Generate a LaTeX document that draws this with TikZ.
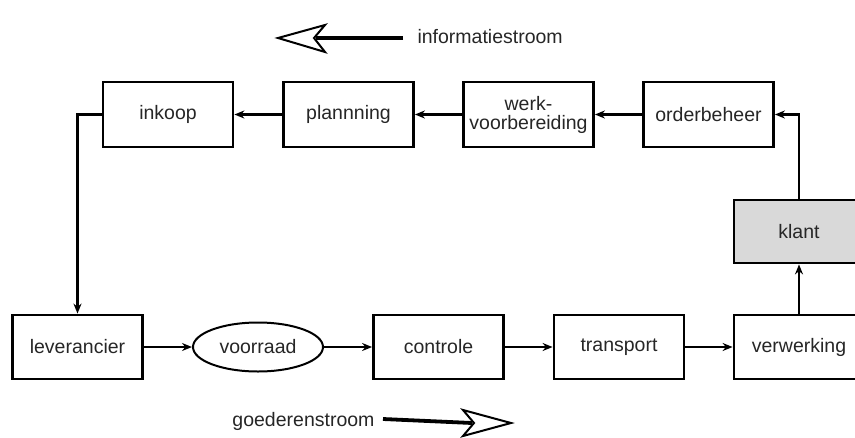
\documentclass[tikz,border=0pt]{standalone}
\usepackage{fontspec}
\setmainfont{Liberation Sans}
\usetikzlibrary{shapes.geometric,arrows.meta}
\begin{document}
\begin{tikzpicture}[x=1pt,y=-1pt,
  every node/.style={font=\fontsize{19.5}{22}\selectfont, text=black!85},
  stepbox/.style={draw, line width=2.8pt, minimum width=130pt, minimum height=65pt, inner sep=0pt, align=center},
  flow/.style={line width=2.4pt, -{Stealth[length=10pt,width=8pt]}},
  bigshaft/.style={line width=3.8pt},
  bighead/.style={draw, line width=2pt, fill=white, line join=miter}]
\useasboundingbox (0,0) rectangle (855,437);
\clip (0,0) rectangle (855,437);

% information chain (top row)
\node[stepbox] (inkoop) at (168,114.5) {inkoop};
\node[stepbox] (plan) at (348.5,114.5) {plannning};
\node[stepbox] (werk) at (528.5,114.5) {werk-\\[-3pt]voorbereiding};
\node[stepbox] (order) at (708.5,114.5) {orderbeheer};

% customer
\node[stepbox, minimum height=63pt, fill=black!15] (klant) at (799,231.5) {klant};

% goods chain (bottom row)
\node[stepbox, minimum height=64pt] (lev) at (77.5,347) {leverancier};
\node[draw, ellipse, line width=2pt, minimum width=130pt, minimum height=49pt, inner sep=0pt] (voor) at (258,347) {voorraad};
\node[stepbox, minimum height=64pt] (contr) at (438.5,347) {controle};
\node[stepbox, minimum height=64pt] (trans) at (619,347) {transport};
\node[stepbox, minimum height=64pt] (verw) at (799,347) {verwerking};

% connectors
\draw[flow] (order) -- (werk);
\draw[flow] (werk) -- (plan);
\draw[flow] (plan) -- (inkoop);
\draw[flow] (inkoop.west) -| (lev.north);
\draw[flow] (lev) -- (voor);
\draw[flow] (voor) -- (contr);
\draw[flow] (contr) -- (trans);
\draw[flow] (trans) -- (verw);
\draw[flow] (verw) -- (klant);
\draw[flow] (klant.north) |- (order.east);

% legend: information flow
\coordinate (itip) at (278,38);
\coordinate (iend) at (403,38);
\draw[bigshaft] (iend) -- (316,38);
\draw[bighead] (itip) -- (325,25) -- (314,38) -- (325,52) -- cycle;
\node[anchor=west] (info) at (414,37) {informatiestroom};

% legend: goods flow
\node[anchor=east] (goed) at (378,421) {goederenstroom};
\coordinate (gtip) at (511,423);
\draw[bigshaft] (goed.east) ++(5pt,2pt) -- (472,423);
\draw[bighead] (gtip) -- (463,410) -- (474,423) -- (463,436) -- cycle;
\end{tikzpicture}
\end{document}
